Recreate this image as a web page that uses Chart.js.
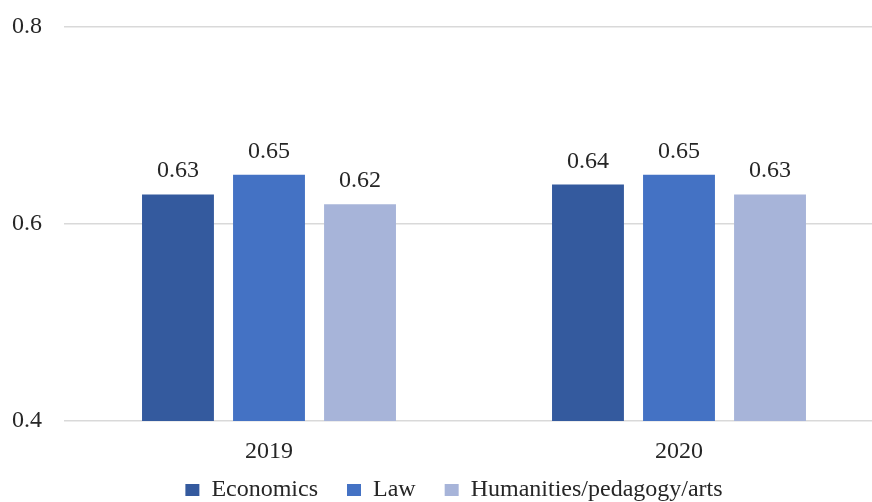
<!DOCTYPE html>
<html>
<head>
<meta charset="utf-8">
<script src="https://cdn.jsdelivr.net/npm/chart.js@4.4.1/dist/chart.umd.min.js"></script>
<style>
  html, body { margin: 0; padding: 0; background: #fff; overflow: hidden; }
  #fontwarm { position: absolute; left: -999px; top: 0; font: 24px "Liberation Serif", "DejaVu Serif", serif; }
</style>
</head>
<body>
<span id="fontwarm">0.65 Economics</span>
<canvas id="myChart" width="872" height="502"></canvas>
<script>
var years = ['2019', '2020'];
var economics = [0.63, 0.64];
var law = [0.65, 0.65];
var humanities = [0.62, 0.63];
var seriesNames = ['Economics', 'Law', 'Humanities/pedagogy/arts'];
var yTicks = [0.4, 0.6, 0.8];

var serif = '"Liberation Serif", "DejaVu Serif", serif';
var textColor = '#262626';
var gap = '\u00a0\u00a0\u00a0';

// labels above the bars
var barLabels = {
  id: 'barLabels',
  afterDatasetsDraw: function (chart) {
    var ctx = chart.ctx;
    ctx.save();
    ctx.font = '24px ' + serif;
    ctx.fillStyle = textColor;
    ctx.textAlign = 'center';
    ctx.textBaseline = 'alphabetic';
    chart.data.datasets.forEach(function (ds, i) {
      chart.getDatasetMeta(i).data.forEach(function (bar, j) {
        ctx.fillText(ds.data[j].toFixed(2), bar.x, bar.y - 17);
      });
    });
    ctx.restore();
  }
};

function makeChart() {
  var ctx = document.getElementById('myChart').getContext('2d');
  return new Chart(ctx, {
    type: 'bar',
    data: {
      labels: years,
      datasets: [
        { label: seriesNames[0], data: economics, backgroundColor: '#345a9e' },
        { label: seriesNames[1], data: law, backgroundColor: '#4472c4' },
        { label: seriesNames[2], data: humanities, backgroundColor: '#a7b4d9' }
      ]
    },
    options: {
      responsive: false,
      animation: false,
      layout: { padding: { top: 27, right: -28, left: 8, bottom: -10 } },
      datasets: {
        bar: { categoryPercentage: 0.666, barPercentage: 0.79 }
      },
      plugins: {
        tooltip: { enabled: false },
        legend: {
          position: 'bottom',
          labels: {
            font: { family: serif, size: 24 },
            color: textColor,
            boxWidth: 14,
            boxHeight: 12,
            padding: 11,
            generateLabels: function (chart) {
              var items = Chart.defaults.plugins.legend.labels.generateLabels(chart);
              items.forEach(function (it, i) {
                if (i < items.length - 1) it.text = it.text + gap;
              });
              return items;
            }
          }
        }
      },
      scales: {
        x: {
          grid: { display: false, drawTicks: false },
          border: { display: false },
          ticks: { font: { family: serif, size: 24 }, color: textColor, padding: 16 },
          afterFit: function (s) { s.height = 46; },
          // the original plot runs past the cropped right edge: 410px per year
          afterBuildTicks: function (s) { s._valueRange = 808 / 410; }
        },
        y: {
          min: 0.4,
          max: 0.8,
          afterBuildTicks: function (s) {
            s.ticks = yTicks.map(function (v) { return { value: v }; });
          },
          grid: { color: '#d9d9d9', lineWidth: 1.5, drawTicks: false },
          border: { display: false },
          ticks: {
            font: { family: serif, size: 24 },
            color: textColor,
            padding: 22,
            callback: function (v) { return v.toFixed(1); }
          },
          afterFit: function (s) {
            s.width = 56;
            s.paddingTop = 0;
            s.paddingBottom = 0;
          }
        }
      }
    },
    plugins: [barLabels]
  });
}

var myChart = makeChart();
// redraw once the serif face is surely available
if (document.fonts && document.fonts.load) {
  document.fonts.load('24px "Liberation Serif"').then(function () {
    myChart.destroy();
    myChart = makeChart();
  });
}
</script>
</body>
</html>
